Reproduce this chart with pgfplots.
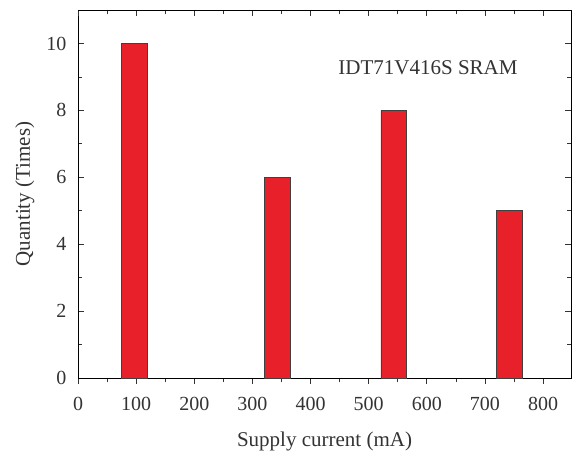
\documentclass[border=0pt]{standalone}
\usepackage{fontspec}
\setmainfont{Liberation Serif}
\usepackage{pgfplots}
\pgfplotsset{compat=1.18}
\definecolor{barred}{HTML}{E8202A}
\begin{document}
\begin{tikzpicture}
\begin{axis}[
  scale only axis, width=493bp, height=368bp,
  xmin=0, xmax=848, ymin=0, ymax=11,
  xtick={0,100,...,800}, minor x tick num=1,
  ytick={0,2,...,10}, minor y tick num=1,
  xtick pos=left, xtick align=outside,
  ytick pos=both, ytick align=inside,
  major tick length=6bp, minor tick length=4bp,
  axis line style={black, line width=0.8bp},
  every tick/.style={black!80, line width=0.7bp},
  /pgf/number format/assume math mode=true,
  tick label style={font=\fontsize{20bp}{24bp}\selectfont, text=black!80},
  yticklabel style={xshift=-8bp},
  xticklabel style={yshift=-10bp},
  xlabel={Supply current (mA)},
  ylabel={Quantity (Times)},
  label style={font=\fontsize{21bp}{25bp}\selectfont, text=black!80},
  xlabel style={at={(axis description cs:0.5,0)}, anchor=base, yshift=-68bp},
  ylabel style={at={(axis description cs:-0.0974,0.5)}, anchor=base},
  clip=false,
]
\addplot[ybar, bar width=44, fill=barred, draw=black!75, line width=0.6bp]
  coordinates {(97,10) (343,6) (543,8) (742,5)};
\node[font=\fontsize{21bp}{25bp}\selectfont, text=black!80] at (axis cs:602,9.28) {IDT71V416S SRAM};
\coordinate (A) at (rel axis cs:0,0);
\coordinate (B) at (rel axis cs:1,1);
\end{axis}
\begin{axis}[
  scale only axis, width=493bp, height=368bp,
  xmin=0, xmax=848, ymin=0, ymax=11,
  axis x line*=top, axis y line=none,
  xtick={0,100,...,800}, minor x tick num=1,
  xticklabels={}, tick align=inside,
  major tick length=6bp, minor tick length=4bp,
  axis line style={black, line width=0.8bp},
  every tick/.style={black!80, line width=0.7bp},
]
\end{axis}
\pgfresetboundingbox
\path ([shift={(-78bp,-74bp)}]A) rectangle ([shift={(1bp,10bp)}]B);
\end{tikzpicture}
\end{document}
